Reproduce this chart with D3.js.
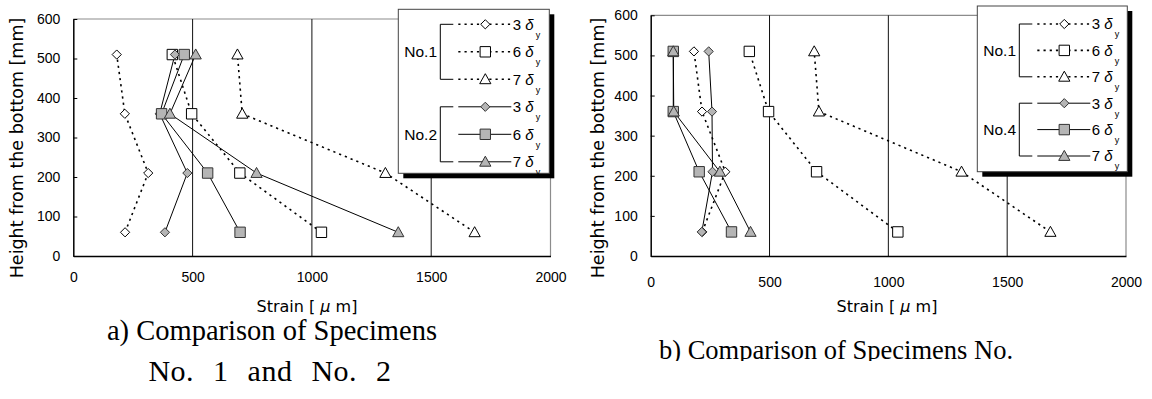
<!DOCTYPE html>
<html>
<head>
<meta charset="utf-8">
<script src="https://cdn.jsdelivr.net/npm/d3@7"></script>
<style>
  body { margin: 0; background: #fff; }
  svg { display: block; }
</style>
</head>
<body>
<svg id="chart" width="1152" height="399"></svg>
<script>
const heights = [60, 210, 360, 510];
const xTicks = [0, 500, 1000, 1500, 2000];
const yTicks = [0, 100, 200, 300, 400, 500, 600];
const gridValues = [500, 1000, 1500];
const levelLabels = ['3', '6', '7'];

const no1Strain3 = [217, 314, 216, 182];
const no1Strain6 = [1040, 698, 496, 415];
const no1Strain7 = [1682, 1308, 708, 688];
const no2Strain3 = [384, 478, 362, 426];
const no2Strain6 = [699, 563, 370, 465];
const no2Strain7 = [1362, 768, 405, 513];
const no4Strain3 = [215, 260, 258, 244];
const no4Strain6 = [340, 204, 95, 95];
const no4Strain7 = [420, 291, 97, 95];

const svg = d3.select('#chart');

const shapes = {
  diamond: 'M0,-4.6L4.6,0L0,4.6L-4.6,0Z',
  square: 'M-5.2,-5.2H5.2V5.2H-5.2Z',
  triangle: 'M0,-5.6L5.6,4.4H-5.6Z'
};
const shapeOrder = ['diamond', 'square', 'triangle'];

function makeSeries(groupName, arrays, dotted) {
  return arrays.map((vals, i) => ({
    group: groupName,
    level: levelLabels[i],
    shape: shapeOrder[i],
    dotted: dotted,
    fill: dotted ? '#ffffff' : '#b5b5b5',
    points: heights.map((h, j) => ({ h: h, v: vals[j] }))
  }));
}

const panels = [
  {
    left: 73.3, right: 550.5, top: 19, bottom: 256,
    xLabelPad: 16, yTitleX: 17, xTitleX: 307,
    series: makeSeries('No.1', [no1Strain3, no1Strain6, no1Strain7], true)
      .concat(makeSeries('No.2', [no2Strain3, no2Strain6, no2Strain7], false)),
    legend: { x: 398.3, y: 9.3, w: 151, h: 164, row0: 15, step: 27.5 },
    caption: [
      { text: 'a) Comparison of Specimens', x: 272, y: 340, size: 28.5, ls: 0, ws: 0 },
      { text: 'No. 1 and No. 2', x: 270, y: 381, size: 30, ls: 0.5, ws: 11 }
    ]
  },
  {
    left: 650.7, right: 1126, top: 15.3, bottom: 256,
    xLabelPad: 21, yTitleX: 598, xTitleX: 887,
    series: makeSeries('No.1', [no1Strain3, no1Strain6, no1Strain7], true)
      .concat(makeSeries('No.4', [no4Strain3, no4Strain6, no4Strain7], false)),
    legend: { x: 977.3, y: 6, w: 150, h: 165.7, row0: 18, step: 26.4 },
    caption: [
      { text: 'b) Comparison of Specimens No.', x: 836, y: 359, size: 26.5, ls: 0, ws: 0 }
    ],
    clipBottom: 361
  }
];

panels.forEach((p, pi) => {
  const x = d3.scaleLinear().domain([0, 2000]).range([p.left, p.right]);
  const y = d3.scaleLinear().domain([0, 600]).range([p.bottom, p.top]);
  const g = svg.append('g');

  // frame: grey top/right, black left/bottom
  g.append('path')
    .attr('d', `M${p.left},${p.top}H${p.right}V${p.bottom}`)
    .attr('fill', 'none').attr('stroke', '#8c8c8c').attr('stroke-width', 1.2);

  // vertical grid lines
  g.selectAll('.grid')
    .data(gridValues)
    .join('line')
    .attr('x1', d => x(d)).attr('x2', d => x(d))
    .attr('y1', p.top).attr('y2', p.bottom)
    .attr('stroke', '#111').attr('stroke-width', 1);

  // y axis
  g.append('g')
    .attr('transform', `translate(${p.left},0)`)
    .call(d3.axisLeft(y).tickValues(yTicks).tickSize(-4).tickSizeOuter(0).tickPadding(13))
    .call(a => a.select('.domain').attr('stroke', '#000').attr('stroke-width', 1.5))
    .call(a => a.selectAll('line').attr('stroke', '#000'))
    .selectAll('text')
    .attr('font-family', 'Liberation Sans, Arial, sans-serif')
    .attr('font-size', 14).attr('fill', '#000');

  // x axis
  g.append('g')
    .attr('transform', `translate(0,${p.bottom})`)
    .call(d3.axisBottom(x).tickValues(xTicks).tickFormat(d3.format('d')).tickSize(0).tickPadding(p.xLabelPad))
    .call(a => a.select('.domain').attr('stroke', '#000').attr('stroke-width', 1.5))
    .selectAll('text')
    .attr('font-family', 'Liberation Sans, Arial, sans-serif')
    .attr('font-size', 14).attr('fill', '#000');

  // axis titles
  const xt = g.append('text')
    .attr('x', p.xTitleX).attr('y', 312)
    .attr('text-anchor', 'middle')
    .attr('font-family', 'DejaVu Sans, sans-serif').attr('font-size', 16)
    .text('Strain [ ');
  xt.append('tspan').attr('font-style', 'italic').text('μ');
  xt.append('tspan').text(' m]');

  g.append('text')
    .attr('transform', `translate(${p.yTitleX},148) rotate(-90)`)
    .attr('text-anchor', 'middle').attr('dy', '0.35em')
    .attr('font-family', 'DejaVu Sans, sans-serif').attr('font-size', 17.5)
    .text('Height from the bottom [mm]');

  // series lines
  const line = d3.line().x(d => x(d.v)).y(d => y(d.h));
  g.selectAll('.series-line')
    .data(p.series)
    .join('path')
    .attr('d', d => line(d.points))
    .attr('fill', 'none')
    .attr('stroke', '#000')
    .attr('stroke-width', d => d.dotted ? 1.6 : 1)
    .attr('stroke-dasharray', d => d.dotted ? '2.2,4' : null);

  // markers
  p.series.forEach(s => {
    g.selectAll(null)
      .data(s.points)
      .join('path')
      .attr('transform', d => `translate(${x(d.v)},${y(d.h)})`)
      .attr('d', shapes[s.shape])
      .attr('fill', s.fill)
      .attr('stroke', s.dotted ? '#000' : '#333')
      .attr('stroke-width', 1);
  });

  // legend
  const L = p.legend;
  const lg = g.append('g').attr('transform', `translate(${L.x},${L.y})`);
  lg.append('rect').attr('x', 5).attr('y', 5).attr('width', L.w).attr('height', L.h).attr('fill', '#000');
  lg.append('rect').attr('width', L.w).attr('height', L.h).attr('fill', '#fff')
    .attr('stroke', '#444').attr('stroke-width', 1);

  const groups = [p.series.slice(0, 3), p.series.slice(3)];
  groups.forEach((grp, gi) => {
    const r0 = L.row0 + gi * 3 * L.step;
    const r2 = r0 + 2 * L.step;
    lg.append('text')
      .attr('x', 6).attr('y', r0 + L.step).attr('dy', '0.36em')
      .attr('font-family', 'Liberation Sans, Arial, sans-serif').attr('font-size', 15.5)
      .text(grp[0].group);
    lg.append('path')
      .attr('d', `M55,${r0}H42V${r2}H55`)
      .attr('fill', 'none').attr('stroke', '#000').attr('stroke-width', 1);
    grp.forEach((s, i) => {
      const ry = r0 + i * L.step;
      lg.append('line')
        .attr('x1', 60).attr('x2', 113).attr('y1', ry).attr('y2', ry)
        .attr('stroke', '#000')
        .attr('stroke-width', s.dotted ? 1.6 : 1)
        .attr('stroke-dasharray', s.dotted ? '2.2,4' : null);
      lg.append('path')
        .attr('transform', `translate(87,${ry})`)
        .attr('d', shapes[s.shape])
        .attr('fill', s.fill)
        .attr('stroke', s.dotted ? '#000' : '#333');
      const t = lg.append('text')
        .attr('x', 114.5).attr('y', ry).attr('dy', '0.36em')
        .attr('font-family', 'Liberation Sans, Arial, sans-serif').attr('font-size', 15)
        .text(s.level + ' ');
      t.append('tspan').attr('font-style', 'italic').text('δ');
      t.append('tspan').attr('font-size', 9).attr('dx', 2).attr('dy', 8).text('y');
    });
  });

  // caption (panel b is cut off at the bottom in the source)
  const capG = g.append('g');
  if (p.clipBottom) {
    svg.append('clipPath').attr('id', 'capclip' + pi)
      .append('rect').attr('x', 0).attr('y', 0).attr('width', 1152).attr('height', p.clipBottom);
    capG.attr('clip-path', `url(#capclip${pi})`);
  }
  capG.selectAll('text')
    .data(p.caption)
    .join('text')
    .attr('x', d => d.x)
    .attr('y', d => d.y)
    .attr('text-anchor', 'middle')
    .attr('font-family', 'Liberation Serif, Times New Roman, serif')
    .attr('font-size', d => d.size)
    .attr('letter-spacing', d => d.ls)
    .attr('word-spacing', d => d.ws)
    .text(d => d.text);
});
</script>
</body>
</html>
